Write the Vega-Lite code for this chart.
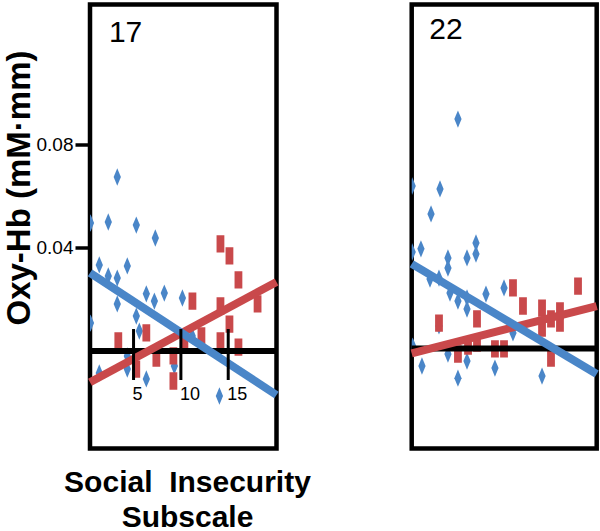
{
  "$schema": "https://vega.github.io/schema/vega-lite/v6.json",
  "padding": {"left": 0, "top": 1.5, "right": 0, "bottom": 0},
  "background": "white",
  "config": {
    "view": {"stroke": "black", "strokeWidth": 4.5},
    "font": "Liberation Sans"
  },
  "spacing": 134.7,
  "bounds": "flush",
  "datasets": {
    "leftPts": [
      {"s": "b", "x": 0.45, "y": 0.0495},
      {"s": "b", "x": 2.33, "y": 0.0499},
      {"s": "b", "x": 3.28, "y": 0.0673},
      {"s": "b", "x": 5.29, "y": 0.0487},
      {"s": "b", "x": 7.3, "y": 0.0437},
      {"s": "b", "x": 1.38, "y": 0.0333},
      {"s": "b", "x": 4.34, "y": 0.0329},
      {"s": "b", "x": 2.33, "y": 0.029},
      {"s": "b", "x": 3.28, "y": 0.0282},
      {"s": "b", "x": 3.28, "y": 0.0182},
      {"s": "b", "x": 6.35, "y": 0.0221},
      {"s": "b", "x": 7.2, "y": 0.0193},
      {"s": "b", "x": 8.25, "y": 0.0224},
      {"s": "b", "x": 5.29, "y": 0.0135},
      {"s": "b", "x": 5.61, "y": 0.0077},
      {"s": "b", "x": 10.16, "y": 0.0205},
      {"s": "b", "x": 0.45, "y": 0.0108},
      {"s": "b", "x": 1.38, "y": -0.0085},
      {"s": "b", "x": 4.34, "y": -0.007},
      {"s": "b", "x": 6.35, "y": -0.0108},
      {"s": "b", "x": 9.31, "y": -0.0058},
      {"s": "b", "x": 14.07, "y": -0.0174},
      {"s": "b", "x": 4.34, "y": -0.0019},
      {"s": "b", "x": 11.2, "y": 0.0058},
      {"s": "r", "x": 3.39, "y": 0.0039},
      {"s": "r", "x": 5.29, "y": -0.007},
      {"s": "r", "x": 6.35, "y": 0.007},
      {"s": "r", "x": 7.41, "y": -0.0027},
      {"s": "r", "x": 9.21, "y": -0.0019},
      {"s": "r", "x": 9.21, "y": -0.0116},
      {"s": "r", "x": 10.37, "y": 0.0039},
      {"s": "r", "x": 11.22, "y": 0.0193},
      {"s": "r", "x": 12.17, "y": 0.0058},
      {"s": "r", "x": 14.18, "y": 0.0414},
      {"s": "r", "x": 15.13, "y": 0.0368},
      {"s": "r", "x": 16.08, "y": 0.0275},
      {"s": "r", "x": 14.18, "y": 0.0174},
      {"s": "r", "x": 14.18, "y": 0.0039},
      {"s": "r", "x": 15.13, "y": 0.0104},
      {"s": "r", "x": 16.08, "y": 0.0015},
      {"s": "r", "x": 18.1, "y": 0.0182}
    ],
    "rightPts": [
      {"s": "b", "x": 5.0, "y": 0.0887},
      {"s": "b", "x": 0.05, "y": 0.0628},
      {"s": "b", "x": 3.06, "y": 0.0617},
      {"s": "b", "x": 2.09, "y": 0.052},
      {"s": "b", "x": 0.05, "y": 0.0373},
      {"s": "b", "x": 1.0, "y": 0.0385},
      {"s": "b", "x": 3.92, "y": 0.035},
      {"s": "b", "x": 3.92, "y": 0.0311},
      {"s": "b", "x": 5.98, "y": 0.035},
      {"s": "b", "x": 6.95, "y": 0.0408},
      {"s": "b", "x": 6.95, "y": 0.0365},
      {"s": "b", "x": 1.98, "y": 0.0268},
      {"s": "b", "x": 2.95, "y": 0.0272},
      {"s": "b", "x": 4.14, "y": 0.0214},
      {"s": "b", "x": 5.0, "y": 0.0183},
      {"s": "b", "x": 5.98, "y": 0.0195},
      {"s": "b", "x": 5.98, "y": 0.0152},
      {"s": "b", "x": 8.03, "y": 0.021},
      {"s": "b", "x": 9.98, "y": 0.0234},
      {"s": "b", "x": 2.95, "y": 0.0087},
      {"s": "b", "x": 0.1, "y": 0.0009},
      {"s": "b", "x": 1.11, "y": -0.0068},
      {"s": "b", "x": 3.92, "y": -0.0022},
      {"s": "b", "x": 5.0, "y": -0.0115},
      {"s": "b", "x": 5.98, "y": -0.0049},
      {"s": "b", "x": 9.0, "y": -0.0076},
      {"s": "b", "x": 10.95, "y": 0.006},
      {"s": "b", "x": 14.09, "y": -0.0107},
      {"s": "r", "x": 10.95, "y": 0.0234},
      {"s": "r", "x": 12.03, "y": 0.0164},
      {"s": "r", "x": 2.95, "y": 0.0098},
      {"s": "r", "x": 7.06, "y": 0.0114},
      {"s": "r", "x": 7.06, "y": 0.0021},
      {"s": "r", "x": 6.09, "y": 0.0009},
      {"s": "r", "x": 5.0, "y": -0.0022},
      {"s": "r", "x": 9.0, "y": -0.0002},
      {"s": "r", "x": 9.98, "y": -0.0002},
      {"s": "r", "x": 14.09, "y": 0.0156},
      {"s": "r", "x": 14.09, "y": 0.0079},
      {"s": "r", "x": 15.06, "y": 0.0114},
      {"s": "r", "x": 15.06, "y": -0.0037},
      {"s": "r", "x": 16.03, "y": 0.0145},
      {"s": "r", "x": 16.03, "y": 0.0098},
      {"s": "r", "x": 17.98, "y": 0.0241}
    ],
    "leftLines": [
      {"s": "b", "x": 0.4, "y": 0.0302},
      {"s": "b", "x": 20.1, "y": -0.017},
      {"s": "r", "x": 0.4, "y": -0.0121},
      {"s": "r", "x": 20.1, "y": 0.0267}
    ],
    "rightLines": [
      {"s": "b", "x": 0, "y": 0.0327},
      {"s": "b", "x": 20, "y": -0.0099},
      {"s": "r", "x": 0, "y": -0.0019},
      {"s": "r", "x": 20, "y": 0.0164}
    ],
    "leftZero": [{"x": 0.4, "x2": 20.1, "y": 0}],
    "rightZero": [{"x": 0, "x2": 20, "y": 0}],
    "ticks": [
      {"x": 5, "y": -0.0112, "y2": 0.0085},
      {"x": 10, "y": -0.0112, "y2": 0.0085},
      {"x": 15, "y": -0.0112, "y2": 0.0085}
    ],
    "tickLabels": [
      {"x": 5, "y": -0.0191, "t": "5"},
      {"x": 10, "y": -0.0191, "t": "10"},
      {"x": 15, "y": -0.0191, "t": "15"}
    ],
    "leftLabel": [{"x": 2.4, "y": 0.1196, "t": "17"}],
    "rightLabel": [{"x": 1.9, "y": 0.1196, "t": "22"}]
  },
  "hconcat": [
    {
      "width": 186.5,
      "height": 444,
      "encoding": {
        "x": {
          "field": "x", "type": "quantitative",
          "scale": {"domain": [0.4, 20.1], "nice": false, "zero": false},
          "axis": {
            "title": ["Social\u00a0 Insecurity", "Subscale"],
            "labels": false, "ticks": false, "domain": false, "grid": false,
            "titleFontSize": 30, "titleFontWeight": "bold", "titleColor": "black",
            "titleX": 97, "titleY": 42.5, "titleBaseline": "alphabetic", "titleLineHeight": 35
          }
        },
        "y": {
          "field": "y", "type": "quantitative",
          "scale": {"domain": [-0.0377, 0.134], "nice": false, "zero": false},
          "axis": {
            "title": "Oxy-Hb (mM·mm)",
            "values": [0.04, 0.08], "format": ".2f",
            "grid": false, "domain": false,
            "tickSize": 15, "tickWidth": 3.5, "tickColor": "black",
            "labelFontSize": 19, "labelColor": "black", "labelPadding": 2,
            "titleFontSize": 33, "titleFontWeight": "bold", "titleColor": "black",
            "titlePadding": 0, "titleY": 183
          }
        }
      },
      "layer": [
        {
          "data": {"name": "leftPts"},
          "transform": [{"filter": "datum.s === 'b'"}],
          "mark": {"type": "point", "shape": "M0,-1L0.42,0L0,1L-0.42,0Z", "filled": true, "size": 300, "color": "#4a86c8", "opacity": 1, "clip": true}
        },
        {
          "data": {"name": "leftPts"},
          "transform": [{"filter": "datum.s === 'r'"}],
          "mark": {"type": "point", "shape": "M-0.45,-1L0.45,-1L0.45,1L-0.45,1Z", "filled": true, "size": 300, "color": "#c9494b", "opacity": 1, "clip": true}
        },
        {
          "data": {"name": "leftZero"},
          "mark": {"type": "rule", "color": "black", "strokeWidth": 6},
          "encoding": {"x2": {"field": "x2"}}
        },
        {
          "data": {"name": "leftLines"},
          "transform": [{"filter": "datum.s === 'r'"}],
          "mark": {"type": "line", "color": "#c9494b", "strokeWidth": 8, "strokeCap": "butt"}
        },
        {
          "data": {"name": "leftLines"},
          "transform": [{"filter": "datum.s === 'b'"}],
          "mark": {"type": "line", "color": "#4a86c8", "strokeWidth": 8, "strokeCap": "butt"}
        },
        {
          "data": {"name": "ticks"},
          "mark": {"type": "rule", "color": "black", "strokeWidth": 3},
          "encoding": {"y2": {"field": "y2"}}
        },
        {
          "data": {"name": "tickLabels"},
          "mark": {"type": "text", "align": "left", "baseline": "alphabetic", "fontSize": 18, "dx": -1, "color": "black"},
          "encoding": {"text": {"field": "t"}}
        },
        {
          "data": {"name": "leftLabel"},
          "mark": {"type": "text", "align": "left", "baseline": "alphabetic", "fontSize": 30, "color": "black"},
          "encoding": {"text": {"field": "t"}}
        }
      ]
    },
    {
      "width": 185,
      "height": 444,
      "encoding": {
        "x": {
          "field": "x", "type": "quantitative",
          "scale": {"domain": [0, 20], "nice": false, "zero": false},
          "axis": null
        },
        "y": {
          "field": "y", "type": "quantitative",
          "scale": {"domain": [-0.0387, 0.133], "nice": false, "zero": false},
          "axis": null
        }
      },
      "layer": [
        {
          "data": {"name": "rightPts"},
          "transform": [{"filter": "datum.s === 'b'"}],
          "mark": {"type": "point", "shape": "M0,-1L0.42,0L0,1L-0.42,0Z", "filled": true, "size": 300, "color": "#4a86c8", "opacity": 1, "clip": true}
        },
        {
          "data": {"name": "rightPts"},
          "transform": [{"filter": "datum.s === 'r'"}],
          "mark": {"type": "point", "shape": "M-0.45,-1L0.45,-1L0.45,1L-0.45,1Z", "filled": true, "size": 300, "color": "#c9494b", "opacity": 1, "clip": true}
        },
        {
          "data": {"name": "rightZero"},
          "mark": {"type": "rule", "color": "black", "strokeWidth": 6},
          "encoding": {"x2": {"field": "x2"}}
        },
        {
          "data": {"name": "rightLines"},
          "transform": [{"filter": "datum.s === 'r'"}],
          "mark": {"type": "line", "color": "#c9494b", "strokeWidth": 8, "strokeCap": "butt"}
        },
        {
          "data": {"name": "rightLines"},
          "transform": [{"filter": "datum.s === 'b'"}],
          "mark": {"type": "line", "color": "#4a86c8", "strokeWidth": 8, "strokeCap": "butt"}
        },
        {
          "data": {"name": "rightLabel"},
          "mark": {"type": "text", "align": "left", "baseline": "alphabetic", "fontSize": 30, "color": "black"},
          "encoding": {"text": {"field": "t"}}
        }
      ]
    }
  ]
}
